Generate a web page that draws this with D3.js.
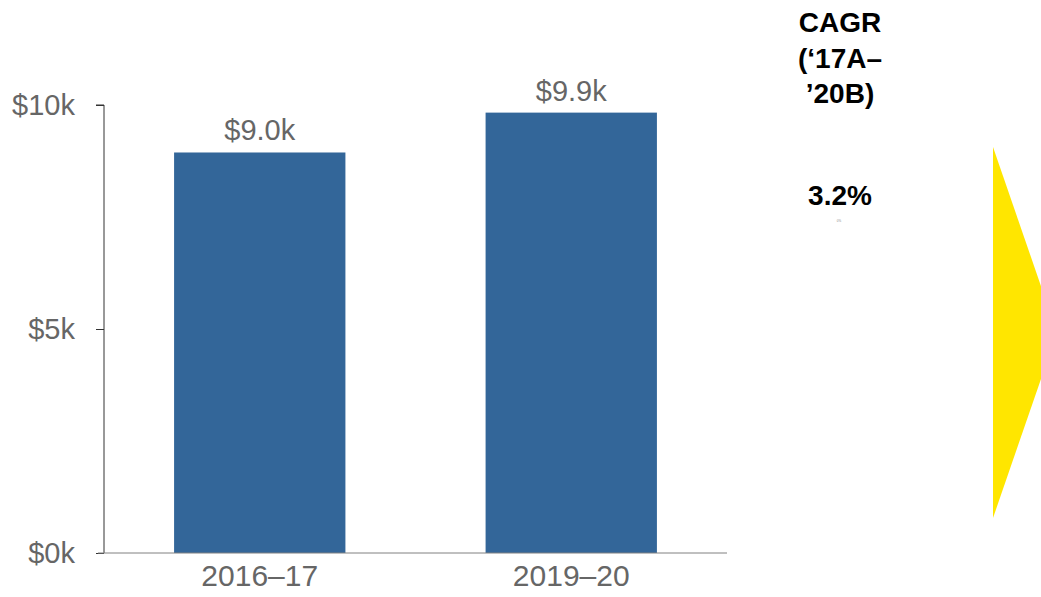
<!DOCTYPE html>
<html>
<head>
<meta charset="utf-8">
<script src="https://cdn.jsdelivr.net/npm/d3@7"></script>
<style>
  html, body { margin: 0; padding: 0; background: #fff; overflow: hidden; }
  text { font-family: "Liberation Sans", Arial, sans-serif; }
</style>
</head>
<body>
<div id="chart"></div>
<script>
// Chart data
var periods = ['2016–17', '2019–20'];
var revenue = [8.94, 9.83];           // $k
var valueLabels = ['$9.0k', '$9.9k'];
var yTicks = [0, 5, 10];
var cagrTitle = ['CAGR', '(‘17A–', '’20B)'];
var cagrValue = '3.2%';

var width = 1041, height = 597;

var svg = d3.select('#chart')
  .append('svg')
  .attr('width', width)
  .attr('height', height);

// Scales
var xScale = d3.scaleBand()
  .domain(periods)
  .range([104, 727])
  .paddingInner(0.45)
  .paddingOuter(0.225);

var yScale = d3.scaleLinear()
  .domain([0, 10])
  .range([553, 105]);

// Bars
svg.selectAll('.bar')
  .data(revenue)
  .enter()
  .append('rect')
  .attr('class', 'bar')
  .attr('x', function(d, i) { return xScale(periods[i]); })
  .attr('y', function(d) { return yScale(d); })
  .attr('width', xScale.bandwidth())
  .attr('height', function(d) { return yScale(0) - yScale(d); })
  .attr('fill', '#336699');

// Value labels
svg.selectAll('.value-label')
  .data(revenue)
  .enter()
  .append('text')
  .attr('class', 'value-label')
  .attr('x', function(d, i) { return xScale(periods[i]) + xScale.bandwidth() / 2; })
  .attr('y', function(d) { return yScale(d) - 12; })
  .attr('text-anchor', 'middle')
  .style('font-size', '29px')
  .style('fill', '#666666')
  .text(function(d, i) { return valueLabels[i]; });

// Y axis
var yAxis = svg.append('g')
  .attr('class', 'y-axis')
  .attr('transform', 'translate(104, 0)')
  .call(d3.axisLeft(yScale)
    .tickValues(yTicks)
    .tickSize(8)
    .tickPadding(21)
    .tickFormat(function(d) { return '$' + d + 'k'; }));
yAxis.select('.domain').attr('stroke', '#333333').attr('d', 'M-8,105H0V553');
yAxis.selectAll('.tick line').attr('stroke', '#333333');
yAxis.selectAll('.tick text')
  .style('font-size', '29px')
  .style('font-family', '"Liberation Sans", Arial, sans-serif')
  .attr('fill', '#666666');

// X axis
var xAxis = svg.append('g')
  .attr('class', 'x-axis')
  .attr('transform', 'translate(0, 553)')
  .call(d3.axisBottom(xScale).tickSize(0).tickPadding(12));
xAxis.select('.domain').attr('stroke', '#808080').attr('d', 'M98,0H727');
xAxis.selectAll('.tick text')
  .style('font-size', '30px')
  .style('font-family', '"Liberation Sans", Arial, sans-serif')
  .attr('fill', '#666666');

// CAGR annotation
svg.append('text')
  .attr('x', 840)
  .attr('text-anchor', 'middle')
  .style('font-size', '28px')
  .style('font-weight', 'bold')
  .style('fill', '#000000')
  .selectAll('tspan')
  .data(cagrTitle)
  .enter()
  .append('tspan')
  .attr('x', 840)
  .attr('y', function(d, i) { return 32 + i * 35.5; })
  .text(function(d) { return d; });

svg.append('text')
  .attr('x', 840)
  .attr('y', 205)
  .attr('text-anchor', 'middle')
  .style('font-size', '28px')
  .style('font-weight', 'bold')
  .style('fill', '#000000')
  .text(cagrValue);

svg.append('text')
  .attr('x', 839)
  .attr('y', 222)
  .attr('text-anchor', 'middle')
  .style('font-size', '3px')
  .style('fill', '#888888')
  .text('0%');

// Yellow chevron (cut off at the right edge)
svg.append('polygon')
  .attr('points', [[993, 147], [1057, 332.5], [993, 518]].map(function(p) { return p.join(','); }).join(' '))
  .attr('fill', '#FFE600');
</script>
</body>
</html>
